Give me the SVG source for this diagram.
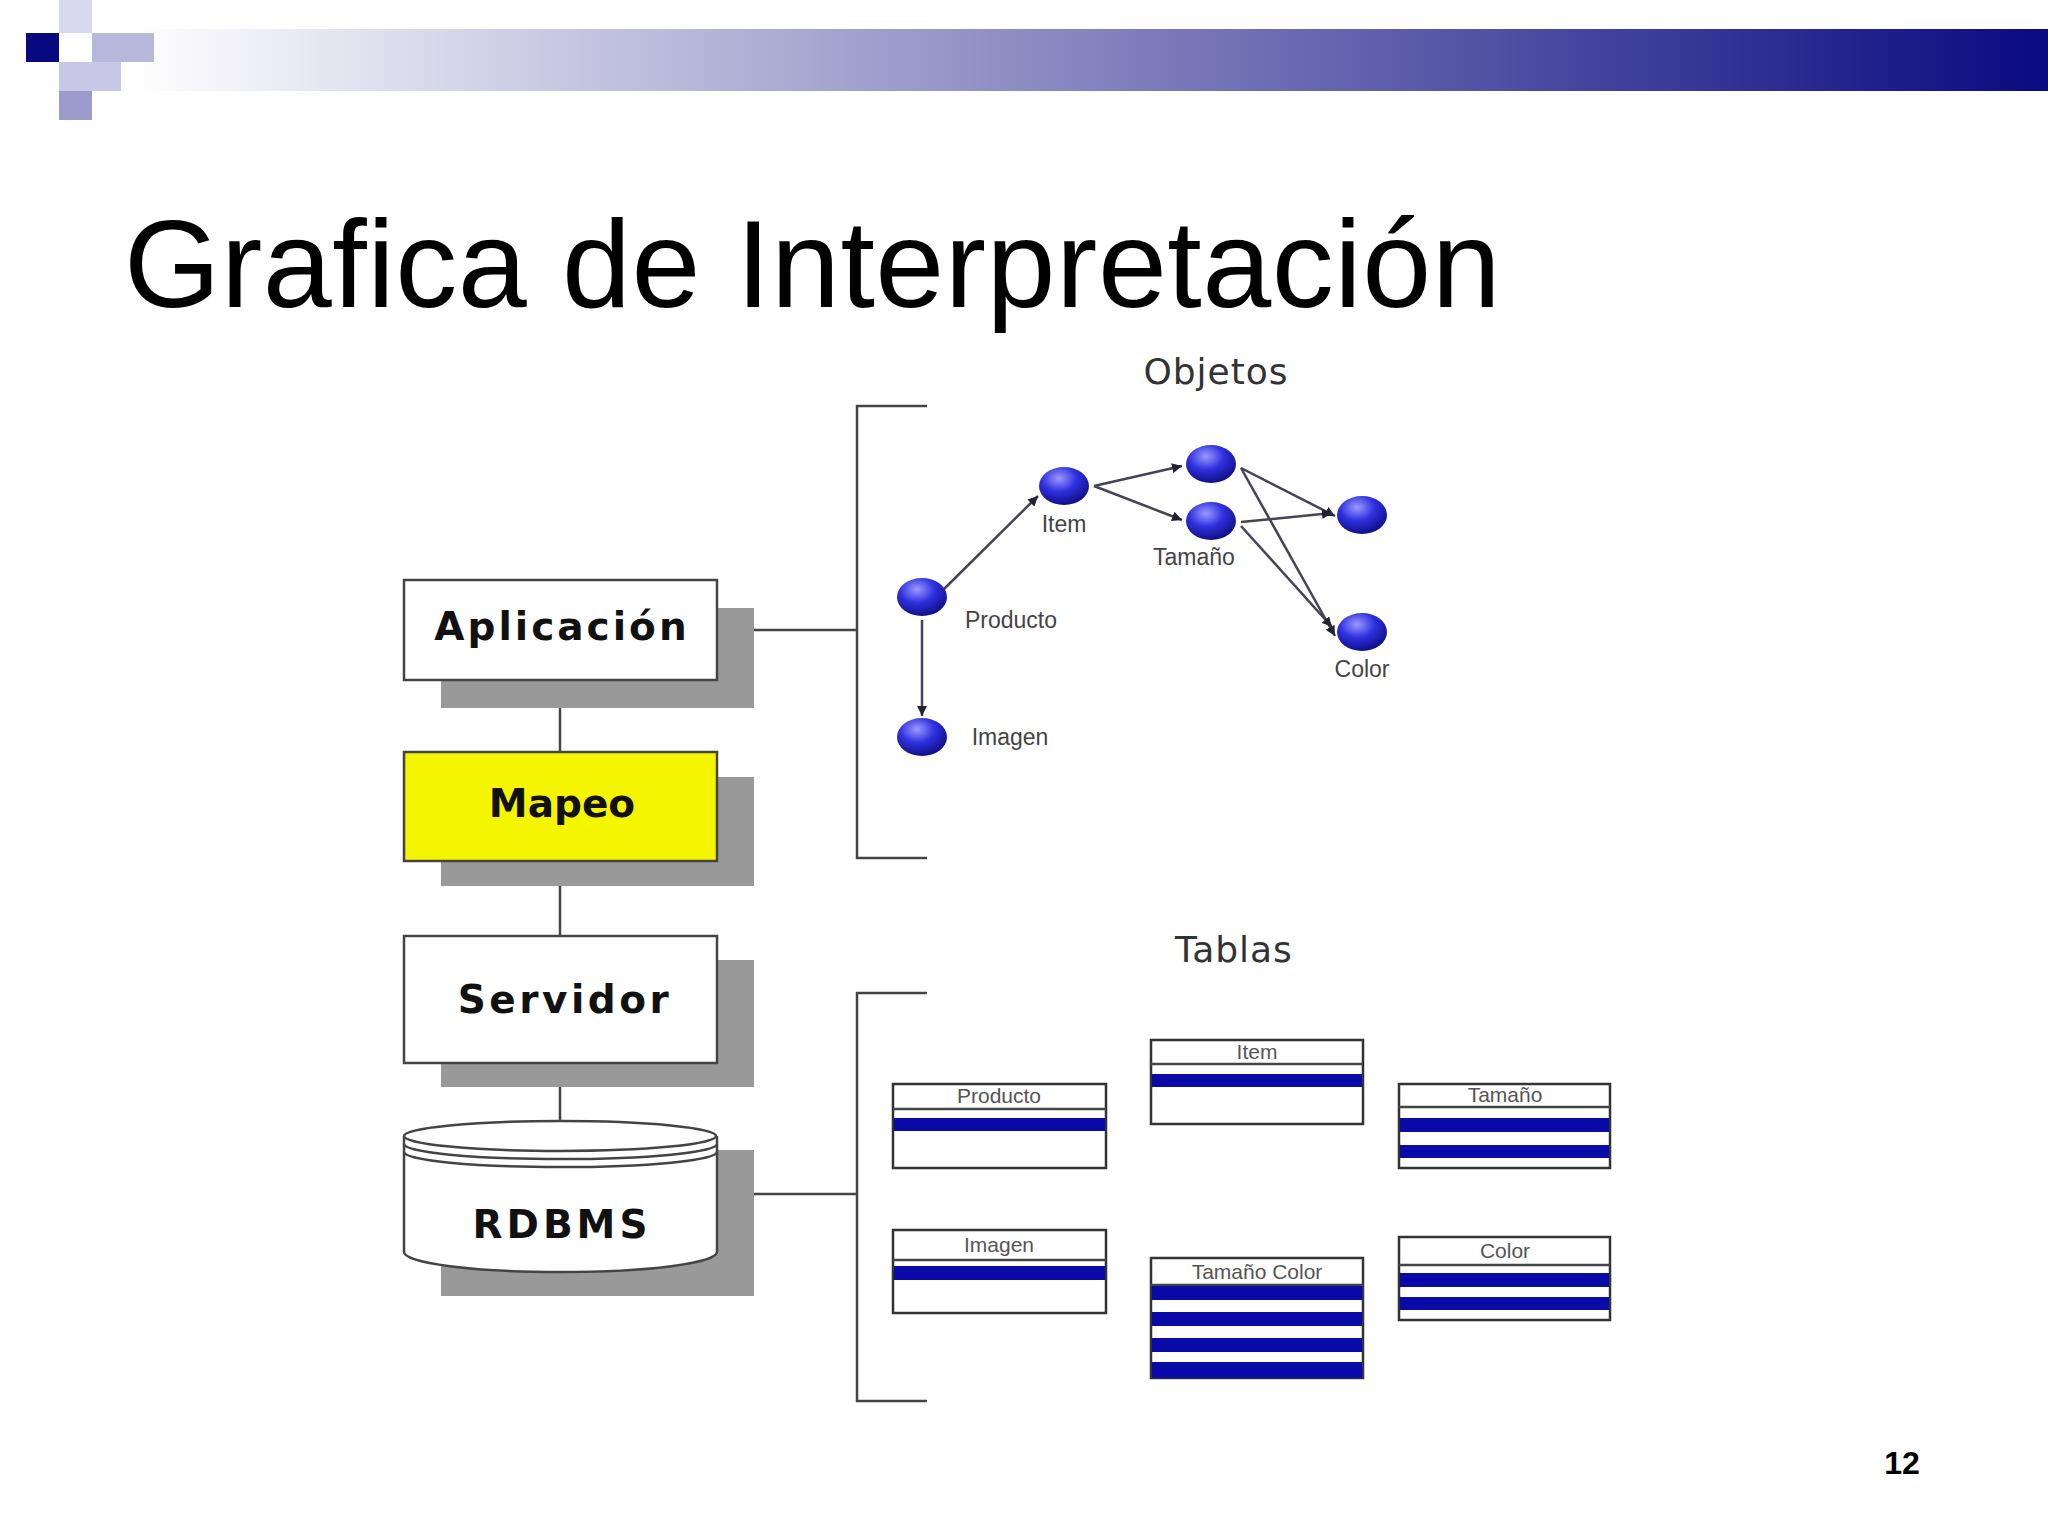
<svg xmlns="http://www.w3.org/2000/svg" width="2048" height="1536" viewBox="0 0 2048 1536">
<defs>
<linearGradient id="bar" x1="0" x2="1" y1="0" y2="0"><stop offset="0" stop-color="#ffffff"/><stop offset="0.4" stop-color="#9c9ccc"/><stop offset="1" stop-color="#0a0a80"/></linearGradient>
<radialGradient id="ball" cx="0.4" cy="0.3" r="0.7"><stop offset="0" stop-color="#9a9aff"/><stop offset="0.5" stop-color="#3030e0"/><stop offset="1" stop-color="#10108a"/></radialGradient>
<marker id="ar" viewBox="0 0 10 10" refX="10" refY="5" markerWidth="10" markerHeight="10" orient="auto" markerUnits="userSpaceOnUse"><path d="M0,0L10,5L0,10z" fill="#223"/></marker>
<style>
.box{fill:#fff;stroke:#444;stroke-width:2.5}
.sh{fill:#999}
.big{font-family:"DejaVu Sans",sans-serif;font-weight:bold;font-size:39px;text-anchor:middle;fill:#111}
.lbl{font-family:"Liberation Sans",sans-serif;font-size:23px;fill:#444}
.tl{font-family:"Liberation Sans",sans-serif;font-size:21px;fill:#555;text-anchor:middle}
.ln{stroke:#444;stroke-width:2.5;fill:none}
.ed{stroke:#445;stroke-width:2.5;fill:none;marker-end:url(#ar)}
.tb{fill:#fff;stroke:#333;stroke-width:2.5}
.bl{fill:#0a0aa8}
</style>
</defs>
<rect width="2048" height="1536" fill="#fff"/>
<rect x="130" y="29" width="1918" height="62" fill="url(#bar)"/>
<rect x="26" y="33" width="33" height="29" fill="#0a0a80"/>
<rect x="92" y="33" width="62" height="29" fill="#b8b8dc"/>
<rect x="59" y="62" width="62" height="29" fill="#c8c8e6"/>
<rect x="59" y="91" width="33" height="29" fill="#9c9ccc"/>
<rect x="59" y="0" width="33" height="33" fill="#d8d8ee"/>
<text x="124" y="307" font-family="Liberation Sans,sans-serif" font-size="124" fill="#000" letter-spacing="0.5">Grafica de Interpretación</text>
<text x="1902" y="1474" font-family="Liberation Sans,sans-serif" font-weight="bold" font-size="32" fill="#000" text-anchor="middle">12</text>

<g id="connectors">
<path class="ln" d="M560 680V752M560 861V936M560 1063V1121"/>
<path class="ln" d="M717 630H857M927 406H857V858H927"/>
<path class="ln" d="M717 1194H857M927 993H857V1401H927"/>
<path class="ed" d="M943 590L1038 496"/>
<path class="ed" d="M922 620V716"/>
<path class="ed" d="M1094 486L1182 466"/>
<path class="ed" d="M1094 486L1182 520"/>
<path class="ed" d="M1241 468L1335 516"/>
<path class="ed" d="M1241 522L1332 513"/>
<path class="ed" d="M1241 468L1335 636"/>
<path class="ed" d="M1241 526L1332 627"/>
</g>

<g id="aplicacion"><rect class="sh" x="441" y="608" width="313" height="100"/><rect class="box" x="404" y="580" width="313" height="100"/><text class="big" x="562" y="640" letter-spacing="3">Aplicación</text></g>
<g id="mapeo"><rect class="sh" x="441" y="777" width="313" height="109"/><rect class="box" x="404" y="752" width="313" height="109" style="fill:#f5f500"/><text class="big" x="562" y="817" font-size="34">Mapeo</text></g>
<g id="servidor"><rect class="sh" x="441" y="960" width="313" height="127"/><rect class="box" x="404" y="936" width="313" height="127"/><text class="big" x="565" y="1013" letter-spacing="3.5">Servidor</text></g>
<g id="rdbms">
<path class="sh" d="M441 1150H754V1296H441z"/>
<path class="box" d="M404 1136V1252A156 20 0 0 0 717 1252V1136"/>
<ellipse class="box" cx="560" cy="1136" rx="156" ry="15"/>
<path class="ln" d="M404 1144A156 15 0 0 0 717 1144M404 1152A156 15 0 0 0 717 1152"/>
<text class="big" x="562" y="1238" letter-spacing="4">RDBMS</text></g>

<text x="1216" y="384" font-family="DejaVu Sans,sans-serif" font-size="36" fill="#333" text-anchor="middle" letter-spacing="1">Objetos</text>
<text x="1234" y="962" font-family="DejaVu Sans,sans-serif" font-size="36" fill="#333" text-anchor="middle" letter-spacing="1">Tablas</text>

<g id="o-item"><ellipse cx="1064" cy="486" rx="25" ry="19" fill="url(#ball)"/><text class="lbl" x="1064" y="532" text-anchor="middle">Item</text></g>
<g id="o-top"><ellipse cx="1211" cy="464" rx="25" ry="19" fill="url(#ball)"/></g>
<g id="o-tamano"><ellipse cx="1211" cy="521" rx="25" ry="19" fill="url(#ball)"/><text class="lbl" x="1194" y="565" text-anchor="middle">Tamaño</text></g>
<g id="o-right"><ellipse cx="1362" cy="515" rx="25" ry="19" fill="url(#ball)"/></g>
<g id="o-color"><ellipse cx="1362" cy="632" rx="25" ry="19" fill="url(#ball)"/><text class="lbl" x="1362" y="677" text-anchor="middle">Color</text></g>
<g id="o-producto"><ellipse cx="922" cy="597" rx="25" ry="19" fill="url(#ball)"/><text class="lbl" x="1011" y="628" text-anchor="middle">Producto</text></g>
<g id="o-imagen"><ellipse cx="922" cy="737" rx="25" ry="19" fill="url(#ball)"/><text class="lbl" x="1010" y="745" text-anchor="middle">Imagen</text></g>

<g id="t-producto"><rect class="tb" x="893" y="1084" width="213" height="84"/><line class="ln" x1="893" y1="1109" x2="1106" y2="1109"/><rect class="bl" x="894" y="1118" width="211" height="13"/><text class="tl" x="999" y="1103">Producto</text></g>
<g id="t-item"><rect class="tb" x="1151" y="1040" width="212" height="84"/><line class="ln" x1="1151" y1="1064" x2="1363" y2="1064"/><rect class="bl" x="1152" y="1074" width="210" height="13"/><text class="tl" x="1257" y="1059">Item</text></g>
<g id="t-tamano"><rect class="tb" x="1399" y="1084" width="211" height="84"/><line class="ln" x1="1399" y1="1107" x2="1610" y2="1107"/><rect class="bl" x="1400" y="1118" width="209" height="14"/><rect class="bl" x="1400" y="1145" width="209" height="13"/><text class="tl" x="1505" y="1102">Tamaño</text></g>
<g id="t-imagen"><rect class="tb" x="893" y="1230" width="213" height="83"/><line class="ln" x1="893" y1="1260" x2="1106" y2="1260"/><rect class="bl" x="894" y="1266" width="211" height="14"/><text class="tl" x="999" y="1252">Imagen</text></g>
<g id="t-tamanocolor"><rect class="tb" x="1151" y="1258" width="212" height="120"/><line class="ln" x1="1151" y1="1285" x2="1363" y2="1285"/><rect class="bl" x="1152" y="1286" width="210" height="14"/><rect class="bl" x="1152" y="1312" width="210" height="14"/><rect class="bl" x="1152" y="1338" width="210" height="14"/><rect class="bl" x="1152" y="1362" width="210" height="16"/><text class="tl" x="1257" y="1279">Tamaño Color</text></g>
<g id="t-color"><rect class="tb" x="1399" y="1237" width="211" height="83"/><line class="ln" x1="1399" y1="1265" x2="1610" y2="1265"/><rect class="bl" x="1400" y="1273" width="209" height="14"/><rect class="bl" x="1400" y="1297" width="209" height="13"/><text class="tl" x="1505" y="1258">Color</text></g>
</svg>
